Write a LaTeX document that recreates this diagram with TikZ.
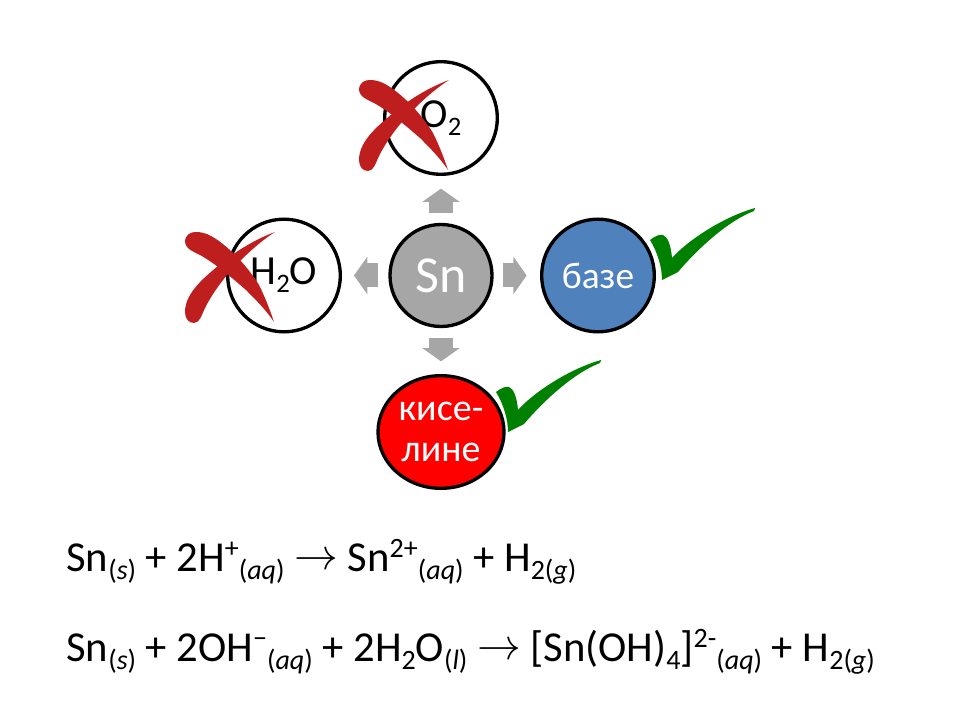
\documentclass[tikz,border=0pt]{standalone}
\usepackage{fontspec}
\setmainfont{Carlito}
\usetikzlibrary{arrows.meta,shapes.geometric}
\definecolor{snGray}{HTML}{A6A6A6}
\definecolor{baseBlue}{HTML}{4F81BD}
\definecolor{crossRed}{HTML}{BE1E1E}
\definecolor{tickGreen}{HTML}{008000}
\newcommand{\lowtxt}[1]{\raisebox{-6.5pt}{\fontsize{21}{23}\selectfont #1}}
\newcommand{\hightxt}[1]{\raisebox{10pt}{\fontsize{21}{23}\selectfont #1}}
\newcommand{\reacts}{\raisebox{1pt}{\scalebox{1.32}{\(\rightarrow\)}}}
\begin{document}
\begin{tikzpicture}[x=.75pt, y=-.75pt]
\tikzset{
  ball/.style={
    draw, circle, line width=2.5pt, inner sep=0pt,
    minimum size=84.5pt, align=center,
    font=\fontsize{31}{35}\selectfont
  },
  blockarrow/.style={
    draw=snGray, line width=18pt,
    -{Triangle[width=27.75pt, length=10pt]}
  },
  equation/.style={
    anchor=base west, inner sep=0pt,
    font=\fontsize{32}{35}\selectfont
  },
  crossmark/.pic={
    \fill[crossRed] (-1,9) .. controls (0,2) and (5,0) .. (10,0) .. controls (18,0) and (24,3) .. (30,7)
      .. controls (45,17) and (62,35) .. (73,53) .. controls (79,65) and (84,78) .. (88,90)
      .. controls (80,78) and (70,68) .. (60,58) .. controls (45,45) and (30,32) .. (14,23)
      .. controls (8,20) and (-1,17) .. (-1,9) -- cycle;
    \fill[crossRed] (89,0) .. controls (70,7) and (52,18) .. (38,29) .. controls (20,44) and (-1,60) .. (-1,80)
      .. controls (-1,87) and (3,91) .. (8,91) .. controls (14,91) and (16,82) .. (19,76)
      .. controls (27,60) and (40,43) .. (52,31) .. controls (63,20) and (75,9) .. (89,0) -- cycle;
  },
  tickmark/.pic={
    \fill[tickGreen] (0,32) .. controls (5,28) and (10,26) .. (13,27) .. controls (18,29) and (21,38) .. (22,50)
      .. controls (35,35) and (70,10) .. (105,0) -- (104,3) .. controls (80,12) and (50,38) .. (28,64)
      -- (12,72) .. controls (12,60) and (8,45) .. (0,32) -- cycle;
  }
}
\useasboundingbox (0,0) rectangle (960,720);

\node[ball, fill=snGray, text=white, minimum size=76.5pt, font=\fontsize{39}{44}\selectfont] (sn) at (441,275.5) {Sn};
\node[ball] (otwo) at (441,118) {O\raisebox{-6pt}{\fontsize{20}{23}\selectfont 2}};
\node[ball] (water) at (284,275.5) {H\raisebox{-6pt}{\fontsize{20}{23}\selectfont 2}O};
\node[ball, fill=baseBlue, text=white, font=\fontsize{28}{31}\selectfont] (base) at (598,275.5) {базе};
\node[ball, ellipse, fill=red, text=white, minimum width=94.5pt, minimum height=84.5pt, font=\fontsize{28.5}{31}\selectfont] (acid) at (441,432) {\raisebox{-1.5pt}{кисе-}\\\raisebox{-1.5pt}{лине}};

\draw[blockarrow, shorten <=6.75pt, shorten >=10pt] (sn) -- (base);
\draw[blockarrow, shorten <=8pt, shorten >=9pt] (sn) -- (water);
\draw[blockarrow, shorten <=7.5pt, shorten >=9.5pt] (sn) -- (otwo);
\draw[blockarrow, shorten <=7.5pt, shorten >=9.5pt] (sn) -- (acid);

\pic at (360,80) {crossmark};
\pic at (186,232) {crossmark};
\pic at (650,208) {tickmark};
\pic at (496,360) {tickmark};

\node[equation] (acideq) at (66,571) {Sn\lowtxt{(\textit{s})} + 2H\hightxt{+}\lowtxt{(\textit{aq})} \reacts{} Sn\hightxt{2+}\lowtxt{(\textit{aq})} + H\lowtxt{2(\textit{g})}};
\node[equation] (baseeq) at (66,661) {Sn\lowtxt{(\textit{s})} + 2OH\hightxt{−}\lowtxt{(\textit{aq})} + 2H\lowtxt{2}O\lowtxt{(\textit{l})} \reacts{} [Sn(OH)\lowtxt{4}]\hightxt{2-}\lowtxt{(\textit{aq})} + H\lowtxt{2(\textit{g})}};
\end{tikzpicture}
\end{document}
